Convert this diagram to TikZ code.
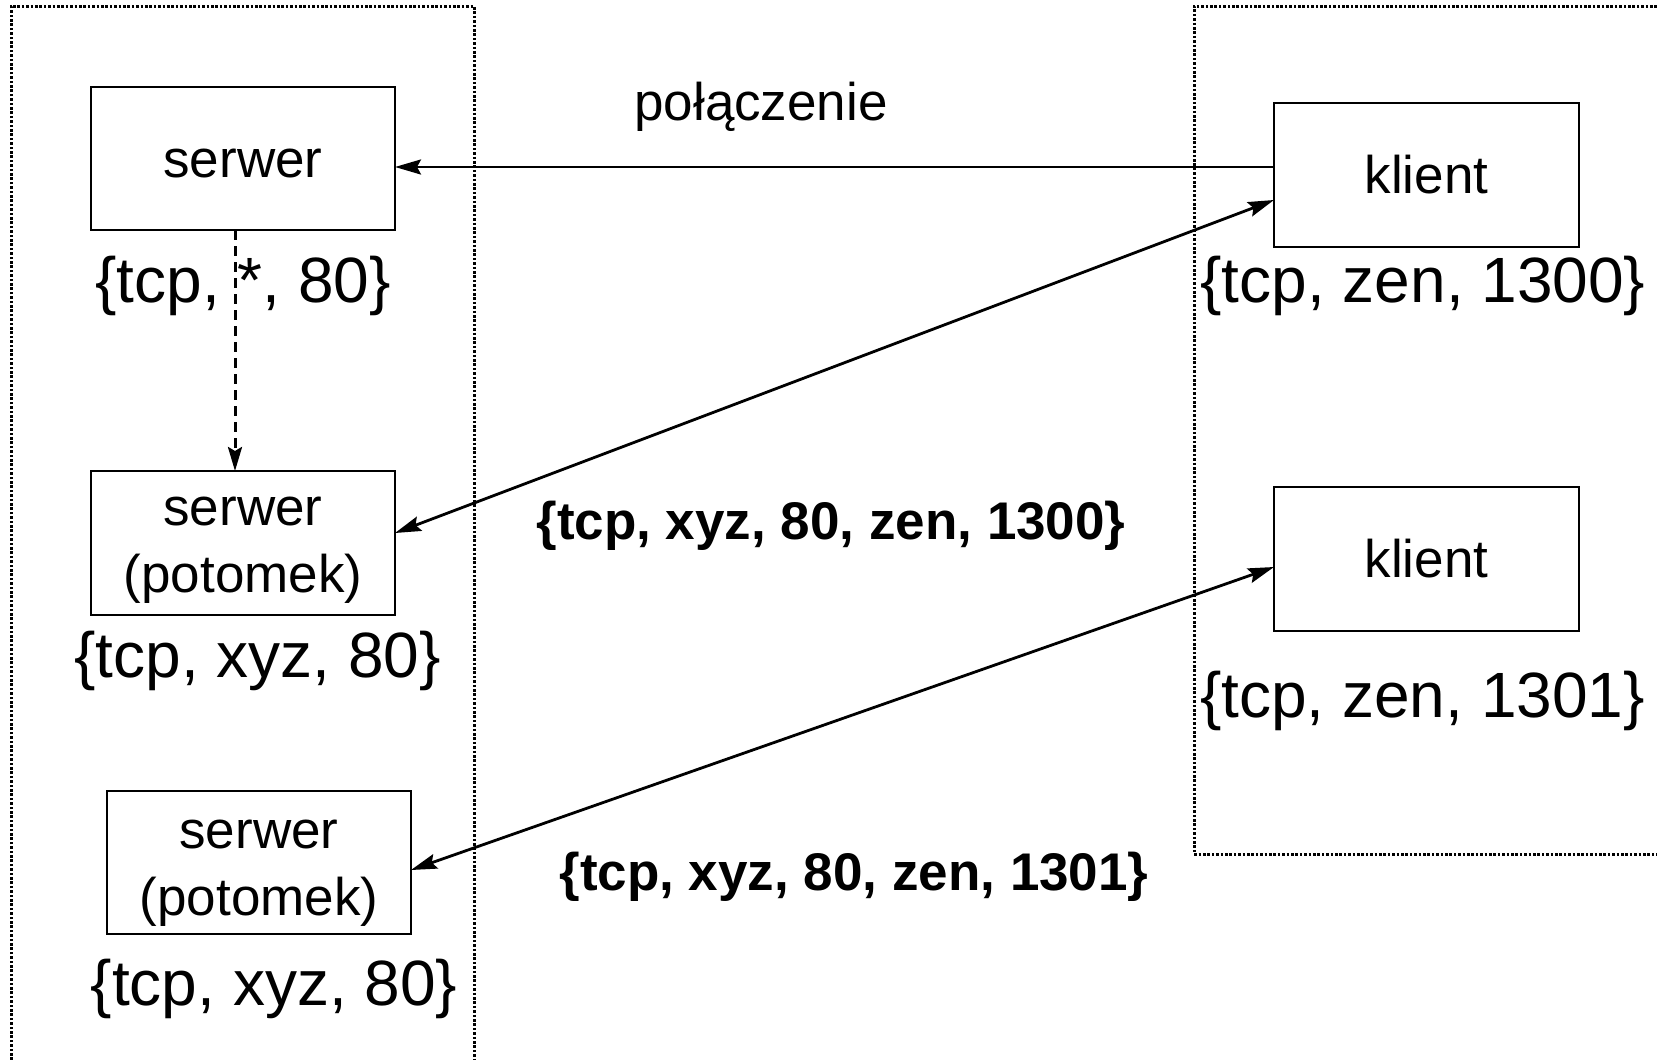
\documentclass[tikz,border=0pt]{standalone}
\usepackage{fontspec}
\setmainfont{Liberation Sans}
\usetikzlibrary{arrows.meta}

\newcommand{\fsBox}{\fontsize{53}{67}\selectfont}
\newcommand{\fsAddr}{\fontsize{64}{77}\selectfont}

\begin{document}
\begin{tikzpicture}[x=1pt,y=-1pt,
  proc/.style={draw, line width=2.6pt, rectangle, inner sep=0pt, outer sep=0pt,
               minimum width=304pt, minimum height=144pt},
  boxtext/.style={inner sep=0pt, anchor=base, font=\fsBox},
  addr/.style={inner sep=0pt, anchor=base, font=\fsAddr},
  conn/.style={inner sep=0pt, anchor=base, font=\fsBox\bfseries},
  host/.style={line width=3pt, dash pattern=on 2.6pt off 1.8pt},
  tip/.tip={Stealth[length=26pt,width=15pt,inset=4pt]},
  arr/.style={line width=2.8pt, -tip},
  biarr/.style={line width=2.8pt, tip-tip},
  spawn/.style={line width=3pt, dash pattern=on 10pt off 6pt, -{Stealth[length=24pt,width=14pt,inset=4pt]}}
]
\useasboundingbox (0,0) rectangle (1657,1060);

% host frames (open towards the page edges)
\draw[host] (11,1060) -- (11,6) -- (474,6) -- (474,1060);
\draw[host] (1657,6) -- (1194,6) -- (1194,854) -- (1657,854);

% server side
\node[proc, minimum height=143pt] (s1) at (243,158.5) {};
\node[boxtext] (s1t) at (243,177) {serwer};
\node[addr] (s1a) at (243,302) {\{tcp, *, 80\}};

\node[proc] (p1) at (243,543) {};
\node[boxtext] (p1t) at (243,525) {\begin{tabular}[t]{@{}c@{}}serwer\\(potomek)\end{tabular}};
\node[addr] (p1a) at (257.5,677) {\{tcp, xyz, 80\}};

\node[proc, minimum height=143pt] (p2) at (259,862.5) {};
\node[boxtext] (p2t) at (259,848) {\begin{tabular}[t]{@{}c@{}}serwer\\(potomek)\end{tabular}};
\node[addr] (p2a) at (274,1005) {\{tcp, xyz, 80\}};

% client side
\node[proc, minimum width=305pt] (k1) at (1426.5,175) {};
\node[boxtext] (k1t) at (1426.5,193) {klient};
\node[addr] (k1a) at (1423,302) {\{tcp, zen, 1300\}};

\node[proc, minimum width=305pt] (k2) at (1426.5,559) {};
\node[boxtext] (k2t) at (1426.5,577) {klient};
\node[addr] (k2a) at (1422.5,717) {\{tcp, zen, 1301\}};

% connection labels
\node[boxtext] (lconn) at (761,120) {połączenie};
\node[conn] (c1) at (831,539) {\{tcp, xyz, 80, zen, 1300\}};
\node[conn] (c2) at (854,890) {\{tcp, xyz, 80, zen, 1301\}};

% connectors
\draw[arr] ([yshift=8pt]k1.west) coordinate (r0) -- (r0 -| s1.east);
\draw[spawn] ([xshift=-8pt]s1.south) -- ([xshift=-8pt]p1.north);
\draw[biarr] ([yshift=-25pt]k1.west) -- ([yshift=10pt]p1.east);
\draw[biarr] ([yshift=-8pt]k2.west) -- ([yshift=-7.5pt]p2.east);
\end{tikzpicture}
\end{document}
